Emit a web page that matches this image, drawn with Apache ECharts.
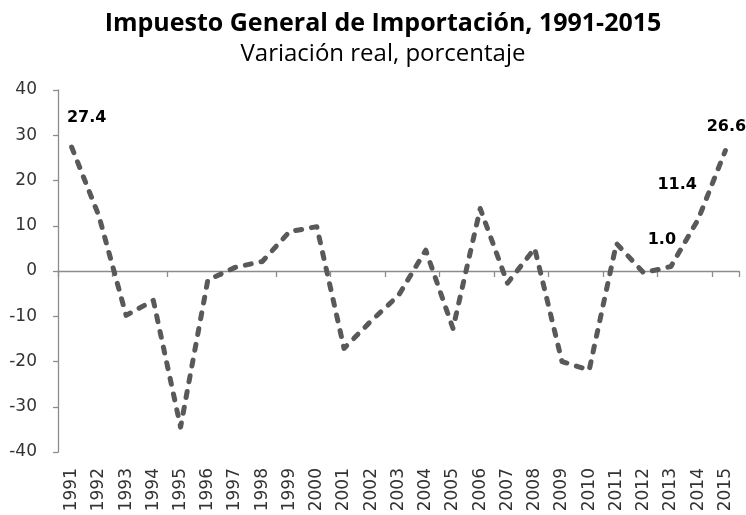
<!DOCTYPE html>
<html>
<head>
<meta charset="utf-8">
<script src="https://cdn.jsdelivr.net/npm/echarts@6/dist/echarts.min.js"></script>
<style>
  html, body { margin: 0; padding: 0; background: #ffffff; }
  #chart { width: 746px; height: 515px; }
</style>
</head>
<body>
<div id="chart"></div>
<script>
const years = ['1991','1992','1993','1994','1995','1996','1997','1998','1999','2000',
  '2001','2002','2003','2004','2005','2006','2007','2008','2009','2010',
  '2011','2012','2013','2014','2015'];
const values = [27.4, 12.2, -9.8, -6.5, -34.5, -2.0, 0.8, 2.1, 8.7, 9.8,
  -17.1, -11.0, -5.4, 4.6, -12.7, 13.8, -2.7, 5.0, -20.0, -21.9,
  6.1, -0.4, 1.0, 11.4, 26.6];
const yTicks = [-40, -30, -20, -10, 0, 10, 20, 30, 40];
const labelledYears = ['1991', '2013', '2014', '2015'];

const labelOffsets = {
  '1991': [15, -29],
  '2013': [-9, -27],
  '2014': [-21, -35],
  '2015': [1, -24]
};

const seriesData = values.map(function (v, i) {
  const yr = years[i];
  if (labelledYears.indexOf(yr) >= 0) {
    return {
      value: v,
      label: {
        show: true,
        position: 'inside',
        offset: labelOffsets[yr],
        formatter: function (p) { return Number(p.value).toFixed(1); },
        fontFamily: 'DejaVu Sans',
        fontWeight: 'bold',
        fontSize: 16,
        color: '#000000'
      }
    };
  }
  return { value: v };
});

const chart = echarts.init(document.getElementById('chart'), null, { renderer: 'canvas' });
chart.setOption({
  animation: false,
  backgroundColor: '#ffffff',
  title: [
    {
      text: 'Impuesto General de Importación, 1991-2015',
      left: 378, top: 6, textAlign: 'center',
      textStyle: { fontFamily: 'Open Sans', fontWeight: 'bold', fontSize: 25, color: '#000000' }
    },
    {
      text: 'Variación real, porcentaje',
      left: 378, top: 37, textAlign: 'center',
      textStyle: { fontFamily: 'Open Sans', fontWeight: 'normal', fontSize: 24, color: '#000000' }
    }
  ],
  grid: { left: 58, right: 7, top: 90, bottom: 63, containLabel: false },
  xAxis: [
    {
      type: 'category',
      data: years,
      boundaryGap: true,
      axisLine: { show: true, onZero: true, lineStyle: { color: '#8c8c8c', width: 1.3 } },
      axisTick: { show: true, length: 6, inside: false, lineStyle: { color: '#8c8c8c', width: 1.3 } },
      axisLabel: { show: false },
      splitLine: { show: false }
    },
    {
      type: 'category',
      data: years,
      position: 'bottom',
      boundaryGap: true,
      axisLine: { show: false },
      axisTick: { show: false },
      axisLabel: {
        show: true, rotate: 90, margin: 16, interval: 0,
        fontFamily: 'DejaVu Sans', fontSize: 17, color: '#333333'
      },
      splitLine: { show: false }
    }
  ],
  yAxis: {
    type: 'value',
    min: yTicks[0],
    max: yTicks[yTicks.length - 1],
    interval: 10,
    axisLine: { show: true, lineStyle: { color: '#8c8c8c', width: 1.3 } },
    axisTick: { show: true, length: 5, lineStyle: { color: '#8c8c8c', width: 1.3 } },
    axisLabel: { margin: 21, fontFamily: 'DejaVu Sans', fontSize: 17, color: '#333333' },
    splitLine: { show: false }
  },
  series: [
    {
      type: 'line',
      xAxisIndex: 0,
      data: seriesData,
      symbol: 'circle',
      symbolSize: 0.1,
      showSymbol: true,
      itemStyle: { color: 'rgba(0,0,0,0)' },
      lineStyle: { color: '#595959', width: 5, type: [6, 10], cap: 'round', join: 'round' },
      z: 5
    }
  ]
});
</script>
</body>
</html>
